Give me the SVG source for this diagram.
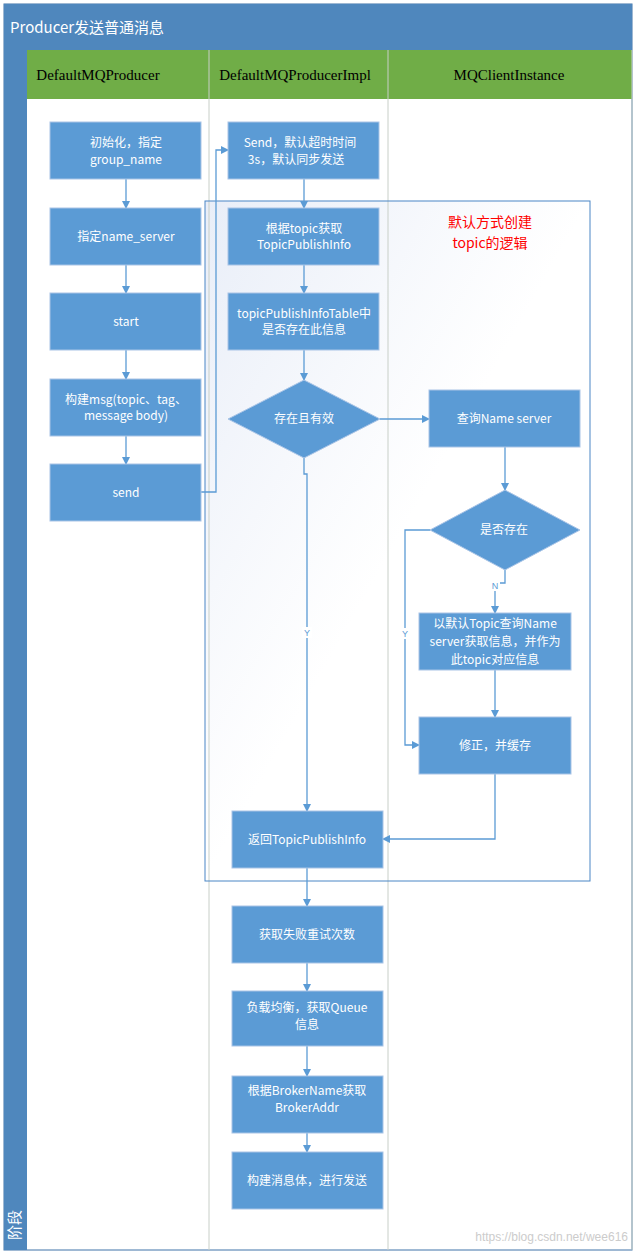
<svg xmlns="http://www.w3.org/2000/svg" width="634" height="1254" viewBox="0 0 634 1254">
<defs>
<marker id="a" markerWidth="8" markerHeight="8" refX="7" refY="4" orient="auto" markerUnits="userSpaceOnUse"><path d="M0,0 L8,4 L0,8 Z" fill="#5b9bd5"/></marker>
<linearGradient id="g" x1="0" y1="0" x2="1" y2="1"><stop offset="0" stop-color="#e9eef8"/><stop offset="0.5" stop-color="#ffffff"/></linearGradient>
</defs>
<style>
.n{fill:#5b9bd5;stroke:#a9c4e6;stroke-width:1}
.t{font-family:"Noto Sans CJK SC","Liberation Sans",sans-serif;font-size:12px;fill:#fff;text-anchor:middle}
.h{font-family:"Liberation Serif",serif;font-size:15px;fill:#000;text-anchor:middle}
.c{fill:none;stroke:#5b9bd5;stroke-width:1.3}
.l{font-family:"Liberation Sans",sans-serif;font-size:9px;fill:#5b9bd5;text-anchor:middle}
</style>
<rect x="0" y="0" width="634" height="1254" fill="#fff"/>
<rect x="205" y="201" width="385" height="680" fill="url(#g)"/>
<rect x="4" y="4" width="628" height="1246" fill="none" stroke="#3f73a8"/>
<rect x="4" y="4" width="628" height="46" fill="#4f87bd"/>
<text x="10" y="33" font-family="Noto Sans CJK SC,Liberation Sans,sans-serif" font-size="15" fill="#fff">Producer发送普通消息</text>
<rect x="4" y="50" width="23" height="1200" fill="#4f87bd"/>
<text transform="translate(20,1240) rotate(-90)" font-family="Noto Sans CJK SC,sans-serif" font-size="15" fill="#fff">阶段</text>
<rect x="27" y="50" width="605" height="49" fill="#70ad47"/>
<g stroke="#c8cfc8" stroke-width="1"><line x1="209" y1="50" x2="209" y2="1250"/><line x1="388" y1="50" x2="388" y2="1250"/><line x1="632" y1="50" x2="632" y2="1250"/></g>
<text class="h" x="98" y="80">DefaultMQProducer</text>
<text class="h" x="295" y="80">DefaultMQProducerImpl</text>
<text class="h" x="509" y="80">MQClientInstance</text>
<rect x="205" y="201" width="385" height="680" fill="none" stroke="#4a86c5" stroke-width="1"/>
<text x="490" y="227" font-family="Noto Sans CJK SC,sans-serif" font-size="14" fill="#f00" text-anchor="middle">默认方式创建</text>
<text x="490" y="248" font-family="Noto Sans CJK SC,sans-serif" font-size="14" fill="#f00" text-anchor="middle">topic的逻辑</text>
<g id="connectors">
<path class="c" d="M126,179V208" marker-end="url(#a)"/>
<path class="c" d="M126,265V293" marker-end="url(#a)"/>
<path class="c" d="M126,350V379" marker-end="url(#a)"/>
<path class="c" d="M126,436V464" marker-end="url(#a)"/>
<path class="c" d="M201,492H216V150H228" marker-end="url(#a)"/>
<path class="c" d="M304,179V208" marker-end="url(#a)"/>
<path class="c" d="M304,265V293" marker-end="url(#a)"/>
<path class="c" d="M304,350V380" marker-end="url(#a)"/>
<path class="c" d="M380,419H429" marker-end="url(#a)"/>
<path class="c" d="M304,458V474H307V811" marker-end="url(#a)"/>
<rect x="302" y="627" width="10" height="11" fill="#fff"/><text class="l" x="307" y="636">Y</text>
<path class="c" d="M505,447V490" marker-end="url(#a)"/>
<path class="c" d="M505,570V583H495V613" marker-end="url(#a)"/>
<rect x="490" y="580" width="10" height="11" fill="#fff"/><text class="l" x="495" y="589">N</text>
<path class="c" d="M430,530H405V745H419" marker-end="url(#a)"/>
<rect x="400" y="628" width="10" height="11" fill="#fff"/><text class="l" x="405" y="637">Y</text>
<path class="c" d="M495,670V717" marker-end="url(#a)"/>
<path class="c" d="M495,774V839H383" marker-end="url(#a)"/>
<path class="c" d="M307,868V906" marker-end="url(#a)"/>
<path class="c" d="M307,963V991" marker-end="url(#a)"/>
<path class="c" d="M307,1046V1076" marker-end="url(#a)"/>
<path class="c" d="M307,1133V1152" marker-end="url(#a)"/>
</g>
<g id="n1"><rect class="n" x="50" y="122" width="151" height="57"/><text class="t" x="126" y="147">初始化，指定</text><text class="t" x="126" y="164">group_name</text></g>
<g id="n2"><rect class="n" x="50" y="208" width="151" height="57"/><text class="t" x="126" y="241">指定name_server</text></g>
<g id="n3"><rect class="n" x="50" y="293" width="151" height="57"/><text class="t" x="126" y="326">start</text></g>
<g id="n4"><rect class="n" x="50" y="379" width="151" height="57"/><text class="t" x="126" y="404">构建msg(topic、tag、</text><text class="t" x="126" y="420">message body)</text></g>
<g id="n5"><rect class="n" x="50" y="464" width="151" height="57"/><text class="t" x="126" y="497">send</text></g>
<g id="n6"><rect class="n" x="228" y="122" width="151" height="57"/><text class="t" x="300" y="147">Send，默认超时时间</text><text class="t" x="296" y="164">3s，默认同步发送</text></g>
<g id="n7"><rect class="n" x="228" y="208" width="151" height="57"/><text class="t" x="304" y="233">根据topic获取</text><text class="t" x="304" y="249">TopicPublishInfo</text></g>
<g id="n8"><rect class="n" x="228" y="293" width="151" height="57"/><text class="t" x="304" y="318">topicPublishInfoTable中</text><text class="t" x="304" y="334">是否存在此信息</text></g>
<g id="n9"><polygon class="n" points="304,380 380,419 304,458 228,419"/><text class="t" x="304" y="423">存在且有效</text></g>
<g id="n10"><rect class="n" x="429" y="390" width="151" height="57"/><text class="t" x="504" y="423">查询Name server</text></g>
<g id="n11"><polygon class="n" points="505,490 580,530 505,570 430,530"/><text class="t" x="504" y="534">是否存在</text></g>
<g id="n12"><rect class="n" x="419" y="613" width="152" height="57"/><text class="t" x="495" y="628">以默认Topic查询Name</text><text class="t" x="495" y="646">server获取信息，并作为</text><text class="t" x="495" y="664">此topic对应信息</text></g>
<g id="n13"><rect class="n" x="419" y="717" width="152" height="57"/><text class="t" x="495" y="750">修正，并缓存</text></g>
<g id="n14"><rect class="n" x="232" y="811" width="151" height="57"/><text class="t" x="307" y="844">返回TopicPublishInfo</text></g>
<g id="n15"><rect class="n" x="232" y="906" width="151" height="57"/><text class="t" x="307" y="939">获取失败重试次数</text></g>
<g id="n16"><rect class="n" x="232" y="991" width="151" height="55"/><text class="t" x="307" y="1012">负载均衡，获取Queue</text><text class="t" x="307" y="1029">信息</text></g>
<g id="n17"><rect class="n" x="232" y="1076" width="151" height="57"/><text class="t" x="307" y="1095">根据BrokerName获取</text><text class="t" x="307" y="1112">BrokerAddr</text></g>
<g id="n18"><rect class="n" x="232" y="1152" width="151" height="57"/><text class="t" x="307" y="1185">构建消息体，进行发送</text></g>
<text x="628" y="1241" font-family="Liberation Sans,sans-serif" font-size="12" fill="#ccc" text-anchor="end">https://blog.csdn.net/wee616</text>
</svg>
